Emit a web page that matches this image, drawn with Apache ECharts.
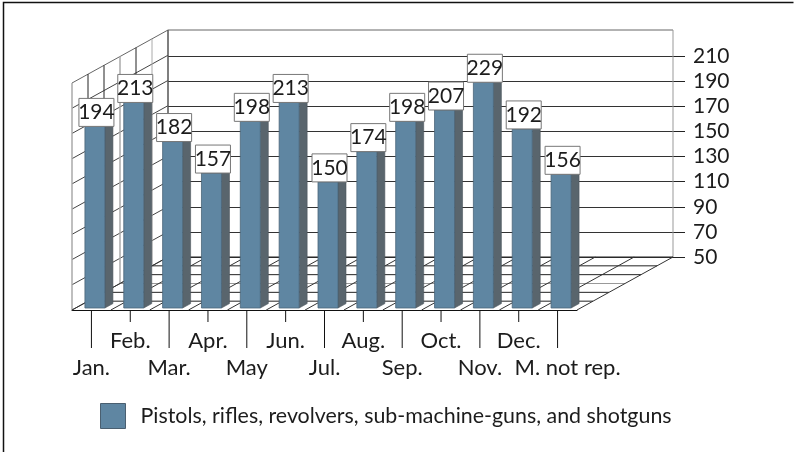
<!DOCTYPE html>
<html>
<head>
<meta charset="utf-8">
<style>html,body{margin:0;padding:0;background:#fff}#c{width:794px;height:452px}</style>
<script src="https://cdn.jsdelivr.net/npm/echarts@6/dist/echarts.min.js"></script>
</head>
<body>
<div id="c"></div>
<script>
const categories = ['Jan.','Feb.','Mar.','Apr.','May','Jun.','Jul.','Aug.','Sep.','Oct.','Nov.','Dec.','M. not rep.'];
const values = [194,213,182,157,198,213,150,174,198,207,229,192,156];
const yTicks = [50,70,90,110,130,150,170,190,210];
const seriesName = 'Pistols, rifles, revolvers, sub-machine-guns, and shotguns';
const yMin = 50, yMax = 230;
const DEPTH = [96,-53];
const FONT = 'Lato';
const TEXT = '#1c1c1c';

const chart = echarts.init(document.getElementById('c'), null, {renderer:'canvas'});

function line(x1,y1,x2,y2,stroke,w){
  return {type:'line',shape:{x1,y1,x2,y2},style:{stroke,lineWidth:w||1,fill:null}};
}
function wallItem(params, api){
  const band = api.size([1,0])[0];
  const left = api.coord([0,yMin])[0]-band/2;
  const right = api.coord([categories.length-1,yMin])[0]+band/2;
  const y0 = api.coord([0,yMin])[1];
  const yT = api.coord([0,yMax])[1];
  const [dx,dy] = DEPTH;
  const ch = [];
  yTicks.forEach(v=>{
    const y = api.coord([0,v])[1];
    ch.push(line(left,y,left+dx,y+dy,'#444'));
  });
  ch.push(line(left,yT,left+dx,yT+dy,'#666'));
  const shades = ['#aaa','#222','#222','#aaa','#222','#aaa','#555'];
  for(let k=0;k<=6;k++){
    const x = left+dx*k/6, yo = dy*k/6;
    ch.push(line(x,yT+yo,x,y0+yo,shades[k],(k%3===0)?1.5:1));
  }
  ch.push(line(left+dx,yT+dy,right+dx,yT+dy,'#666',1));
  ch.push(line(right+dx,yT+dy,right+dx,y0+dy,'#999',1));
  for(let k=1;k<=6;k++){
    const yo = dy*k/6, xo = dx*k/6;
    ch.push(line(left+xo,y0+yo,right+xo,y0+yo,(k===3)?'#999':'#222'));
  }
  for(let i=0;i<=categories.length;i++){
    const x = left+band*i;
    ch.push(line(x,y0,x+dx,y0+dy,'#333'));
  }
  return {type:'group',children:ch};
}
function tickItem(params, api){
  const p = api.coord([api.value(0),yMin]);
  const len = api.value(0)%2===0 ? 38 : 12;
  return line(p[0],p[1],p[0],p[1]+len,'#111',1);
}
function barItem(params, api){
  const p = api.coord([api.value(0),api.value(1)]);
  const base = api.coord([api.value(0),yMin]);
  const xL = p[0]-6.5, xR = p[0]+13.5, sx = 8, sy = -4.4;
  const yT = p[1]-2, yB = base[1]-2;
  return {type:'group',children:[
    {type:'polygon',shape:{points:[[xR,yT],[xR+sx,yT+sy],[xR+sx,yB+sy],[xR,yB]]},
      style:{fill:'#59656d',stroke:'#4b555c',lineWidth:0.6}},
    {type:'polygon',shape:{points:[[xL,yT],[xL+sx,yT+sy],[xR+sx,yT+sy],[xR,yT]]},
      style:{fill:'#7f9db3',stroke:'#4b555c',lineWidth:0.6}},
    {type:'rect',shape:{x:xL,y:yT,width:xR-xL,height:yB-yT},
      style:{fill:'#5f86a2',stroke:'#4a6478',lineWidth:0.8}}
  ]};
}
function labelItem(params, api){
  const v = api.value(1);
  const p = api.coord([api.value(0),v]);
  const cx = p[0]+5, bottom = p[1]-2;
  return {type:'group',children:[
    {type:'rect',shape:{x:cx-17.5,y:bottom-28,width:35,height:28},
      style:{fill:'#fff',stroke:'#777',lineWidth:1}},
    {type:'text',style:{text:String(v),x:cx,y:bottom-14,align:'center',verticalAlign:'middle',
      fill:TEXT,font:'21px '+FONT}}
  ]};
}

chart.setOption({
  animation:false,
  backgroundColor:'#fff',
  graphic:[{type:'polyline',silent:true,shape:{points:[[793.5,2.5],[3.5,2.5],[3.5,452]]},
    style:{stroke:'#111',lineWidth:1.5,fill:null}}],
  legend:{show:true,left:100,top:403,padding:0,itemWidth:25,itemHeight:25,itemGap:0,
    textStyle:{fontFamily:FONT,fontSize:21.4,color:TEXT,padding:[0,0,0,10]},
    data:[{name:seriesName,icon:'rect',itemStyle:{color:'#5f86a2',borderColor:'#4a5f70',borderWidth:1}}]},
  grid:[
    {left:72,width:505,top:83,height:227},
    {left:168,width:505,top:31,height:226}
  ],
  xAxis:[
    {type:'category',gridIndex:0,data:categories,
      axisLine:{show:true,lineStyle:{color:'#111',width:1}},
      axisTick:{show:false},
      axisLabel:{interval:0,margin:17,hideOverlap:false,fontFamily:FONT,fontSize:22,color:TEXT,lineHeight:27,
        formatter:(n,i)=>{
          const t = n==='M. not rep.' ? '{last|'+n+'}' : n;
          return i%2===0 ? '\n'+t : t;
        },
        rich:{last:{fontFamily:FONT,fontSize:22,color:TEXT,lineHeight:27,padding:[0,0,0,20]}}}},
    {type:'category',gridIndex:1,data:categories,show:false}
  ],
  yAxis:[
    {type:'value',gridIndex:0,min:yMin,max:yMax,interval:20,show:false},
    {type:'value',gridIndex:1,min:yMin,max:yMax,interval:20,position:'right',
      axisLine:{show:false},
      axisTick:{show:true,length:12,inside:false,customValues:yTicks,lineStyle:{color:'#222'}},
      axisLabel:{margin:20,customValues:yTicks,fontFamily:FONT,fontSize:21,color:TEXT},
      splitLine:{show:true,lineStyle:{color:'#333',width:1}}}
  ],
  series:[
    {type:'custom',name:'walls',xAxisIndex:0,yAxisIndex:0,z:1,silent:true,data:[[0,yMin]],renderItem:wallItem,clip:false},
    {type:'custom',name:'ticks',xAxisIndex:0,yAxisIndex:0,z:1,silent:true,data:categories.map((c,i)=>[i,yMin]),renderItem:tickItem,clip:false},
    {type:'custom',name:seriesName,xAxisIndex:0,yAxisIndex:0,z:3,data:values.map((v,i)=>[i,v]),renderItem:barItem,clip:false,
      itemStyle:{color:'#5f86a2'}},
    {type:'custom',name:'labels',xAxisIndex:0,yAxisIndex:0,z:4,silent:true,data:values.map((v,i)=>[i,v]),renderItem:labelItem,clip:false}
  ]
});
</script>
</body>
</html>
